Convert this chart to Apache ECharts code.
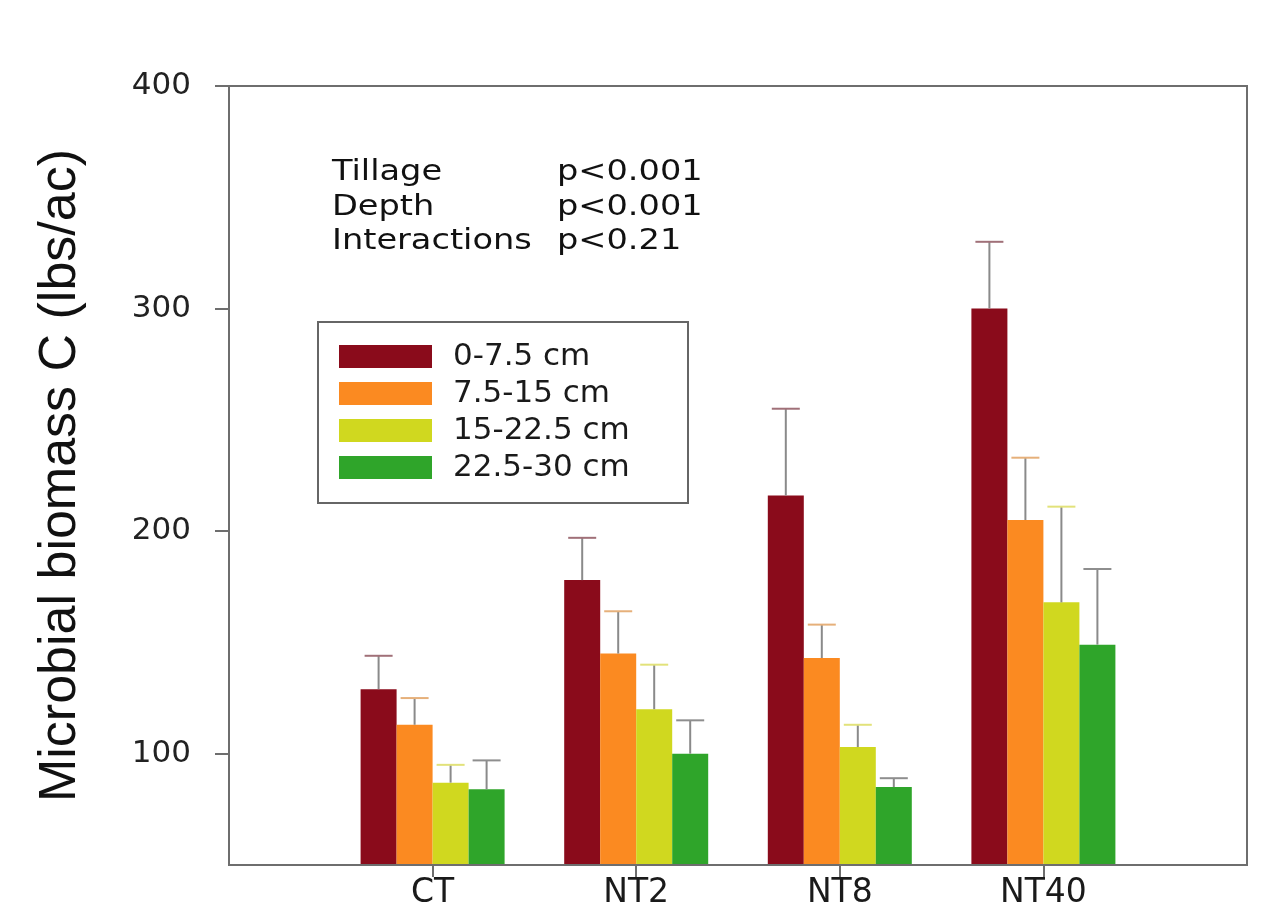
<!DOCTYPE html>
<html>
<head>
<meta charset="utf-8">
<script src="https://cdn.jsdelivr.net/npm/echarts@6/dist/echarts.min.js"></script>
<style>html,body{margin:0;padding:0;background:#fff;}#chart{width:1269px;height:924px;}</style>
</head>
<body>
<div id="chart"></div>
<script>
// Categories (tillage treatments)
const categories = ['CT', 'NT2', 'NT8', 'NT40'];
// Depth series names
const seriesNames = ['0-7.5 cm', '7.5-15 cm', '15-22.5 cm', '22.5-30 cm'];
// Means (lbs/ac)
const mean0 = [129, 178, 216, 300];
const mean1 = [113, 145, 143, 205];
const mean2 = [87, 120, 103, 168];
const mean3 = [84, 100, 85, 149];
// Error bar sizes (upper)
const err0 = [15, 19, 39, 30];
const err1 = [12, 19, 15, 28];
const err2 = [8, 20, 10, 43];
const err3 = [13, 15, 4, 34];
// Y tick labels
const yTicks = [100, 200, 300, 400];
// Category positions on the x axis
const catPos = [1, 2, 3, 4];
// Stats text
const statNames = ['Tillage', 'Depth', 'Interactions'];
const statVals = ['p<0.001', 'p<0.001', 'p<0.21'];

const colors = ['#8a0b1b', '#fb8a21', '#d0d81f', '#2fa52a'];
const capColors = ['#a07078', '#e6b07a', '#e2e27a', '#8e8e8e'];
const means = [mean0, mean1, mean2, mean3];
const errs = [err0, err1, err2, err3];
const BW = 36;

const chart = echarts.init(document.getElementById('chart'), null, {renderer: 'canvas'});

const series = [];
means.forEach((m, s) => {
  series.push({
    type: 'bar',
    name: seriesNames[s],
    data: m.map((v, i) => [catPos[i], v]),
    barWidth: BW,
    barGap: '0%',
    itemStyle: {color: colors[s]},
    z: 2
  });
});
means.forEach((m, s) => {
  series.push({
    type: 'custom',
    name: 'err' + s,
    data: m.map((v, i) => [catPos[i], v, v + errs[s][i]]),
    encode: {x: 0, y: [1, 2]},
    z: 3,
    renderItem: function (params, api) {
      const x = api.value(0);
      const p0 = api.coord([x, api.value(1)]);
      const p1 = api.coord([x, api.value(2)]);
      const off = (s - 1.5) * BW;
      const cx = p0[0] + off;
      return {
        type: 'group',
        children: [
          {type: 'line', shape: {x1: cx, y1: p0[1], x2: cx, y2: p1[1]}, style: {stroke: '#8a8a8a', lineWidth: 2}},
          {type: 'line', shape: {x1: cx - 14, y1: p1[1], x2: cx + 14, y2: p1[1]}, style: {stroke: capColors[s], lineWidth: 2}}
        ]
      };
    }
  });
});

const graphics = [
  {type: 'rect', shape: {x: 318, y: 322, width: 370, height: 181}, style: {fill: 'none', stroke: '#666', lineWidth: 2}, z: 10}
];
statNames.forEach((t, i) => {
  const y = 173 + i * 34.5;
  graphics.push({type: 'text', x: 332, y: y, scaleX: 1.2, z: 10,
    style: {text: t, font: '28px "DejaVu Sans"', fill: '#111', align: 'left', verticalAlign: 'middle'}});
  graphics.push({type: 'text', x: 557, y: y, scaleX: 1.2, z: 10,
    style: {text: statVals[i], font: '28px "DejaVu Sans"', fill: '#111', align: 'left', verticalAlign: 'middle'}});
});

chart.setOption({
  animation: false,
  backgroundColor: '#fff',
  grid: {left: 229, top: 86, right: 22, bottom: 59, show: true, borderColor: '#6e6e6e', borderWidth: 2, backgroundColor: 'transparent'},
  legend: {
    data: seriesNames,
    orient: 'vertical',
    left: 339, top: 341,
    itemWidth: 93, itemHeight: 23, itemGap: 6,
    icon: 'rect',
    borderWidth: 0,
    padding: 0,
    selectedMode: false,
    textStyle: {fontFamily: 'DejaVu Sans', fontSize: 31, color: '#1a1a1a', padding: [0, 0, 0, 16]}
  },
  xAxis: {
    type: 'value',
    min: 0, max: 5,
    z: 10,
    axisLine: {onZero: false, lineStyle: {color: '#6e6e6e', width: 2}},
    axisTick: {show: true, inside: false, length: 12, customValues: catPos, lineStyle: {color: '#6e6e6e', width: 2}},
    axisLabel: {customValues: catPos, margin: 12, fontFamily: 'DejaVu Sans', fontSize: 33, color: '#1a1a1a',
      formatter: function (v) { return categories[Math.round(v) - 1] || ''; }},
    splitLine: {show: false}
  },
  yAxis: {
    type: 'value',
    min: 50, max: 400, interval: 50,
    name: 'Microbial biomass C (lbs/ac)',
    nameLocation: 'middle',
    nameRotate: 90,
    nameGap: 142,
    nameTextStyle: {fontFamily: 'Liberation Sans', fontSize: 52, color: '#111'},
    axisLine: {show: true, lineStyle: {color: '#6e6e6e', width: 2}},
    axisTick: {show: true, length: 14, customValues: yTicks, lineStyle: {color: '#6e6e6e', width: 2}},
    axisLabel: {customValues: yTicks, margin: 38, fontFamily: 'DejaVu Sans', fontSize: 31, color: '#222'},
    splitLine: {show: false}
  },
  graphic: graphics,
  series: series
});
</script>
</body>
</html>
